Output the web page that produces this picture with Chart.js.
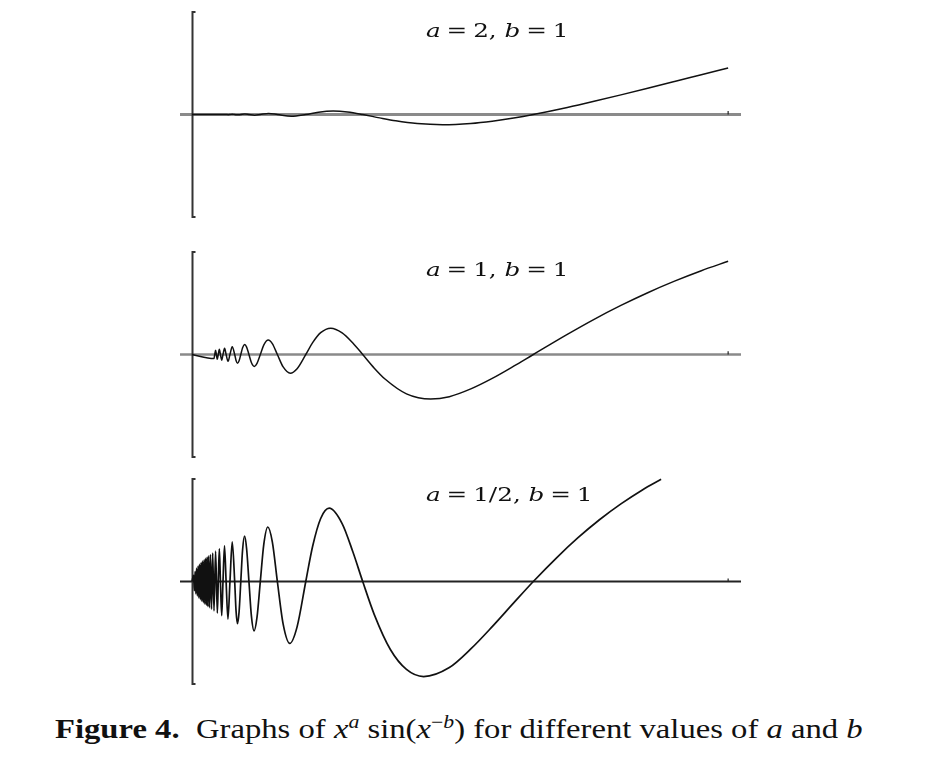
<!DOCTYPE html>
<html>
<head>
<meta charset="utf-8">
<script src="https://cdn.jsdelivr.net/npm/chart.js@4"></script>
<style>
  body { margin: 0; background: #fff; width: 951px; height: 780px; position: relative; overflow: hidden; }
  canvas { position: absolute; left: 0; }
  .lbl { position: absolute; font-family: "DejaVu Serif", serif; font-size: 19px; line-height: 19px; color: #111; white-space: nowrap; transform-origin: left top; transform: scaleX(1.3); }
  .lbl i { font-style: italic; }
  .eq { margin: 0 4.5px; }
  #caption { position: absolute; left: 55px; top: 716px; font-family: "Liberation Serif", serif; font-size: 27px; line-height: 27px; color: #111; white-space: nowrap; transform-origin: left top; transform: scaleX(1.21); }
  #caption sup { font-size: 18px; line-height: 0; }
</style>
</head>
<body>
<canvas id="c1" width="951" height="230" style="top:0px"></canvas>
<canvas id="c2" width="951" height="230" style="top:240px"></canvas>
<canvas id="c3" width="951" height="230" style="top:467px"></canvas>

<div class="lbl" style="left:426px; top:21px"><i>a</i><span class="eq">=</span>2, <i>b</i><span class="eq">=</span>1</div>
<div class="lbl" style="left:426px; top:260px"><i>a</i><span class="eq">=</span>1, <i>b</i><span class="eq">=</span>1</div>
<div class="lbl" style="left:426px; top:485px"><i>a</i><span class="eq">=</span>1/2, <i>b</i><span class="eq">=</span>1</div>

<div id="caption"><b>Figure 4.</b>&ensp;Graphs of <i>x</i><sup><i>a</i></sup> sin(<i>x</i><sup>&minus;<i>b</i></sup>) for different values of <i>a</i> and <i>b</i></div>

<script>
// x^2 sin(1/x)
const x1 = [0, 0.0318, 0.0337, 0.0354, 0.0376, 0.0398, 0.0427, 0.0455, 0.0493, 0.0531, 0.0584, 0.0637, 0.0714, 0.0796, 0.0926, 0.1061, 0.118, 0.1317, 0.145, 0.1592, 0.175, 0.19, 0.21, 0.2337, 0.26, 0.28, 0.3, 0.3183, 0.35, 0.375, 0.4, 0.425, 0.45, 0.475, 0.5];
const y1 = [0, 0, -0.0011, 0, 0.0014, 0, -0.0018, 0, 0.0024, 0, -0.0034, 0, 0.005, 0, -0.0084, 0, 0.0113, 0.0168, 0.0121, 0, -0.0165, -0.0308, -0.044, -0.0495, -0.0436, -0.0326, -0.0172, 0, 0.0343, 0.0643, 0.0958, 0.1281, 0.161, 0.1942, 0.2273];

// x sin(1/x)
const x2 = [0, 0.0205, 0.0212, 0.022, 0.0227, 0.0236, 0.0245, 0.0255, 0.0265, 0.0277, 0.0289, 0.0304, 0.0318, 0.0336, 0.0354, 0.0375, 0.0398, 0.04107, 0.0425, 0.0439, 0.0455, 0.04716, 0.0491, 0.05093, 0.0531, 0.05536, 0.0581, 0.06063, 0.0637, 0.067, 0.0711, 0.0749, 0.0796, 0.085, 0.0917, 0.098, 0.1061, 0.1125, 0.12, 0.1294, 0.14, 0.15, 0.1592, 0.17, 0.18, 0.2, 0.2226, 0.24, 0.26, 0.28, 0.3, 0.3183, 0.35, 0.375, 0.4, 0.425, 0.45, 0.475, 0.5];
const y2 = [0, -0.02, 0, 0.021, 0, -0.0235, 0, 0.0254, 0, -0.0277, 0, 0.0303, 0, -0.0335, 0, 0.0375, 0, -0.029, -0.0425, -0.031, 0, 0.0333, 0.049, 0.036, 0, -0.0391, -0.058, -0.0429, 0, 0.0474, 0.0709, 0.053, 0, -0.0606, -0.0913, -0.0692, 0, 0.0577, 0.1065, 0.1284, 0.1058, 0.0561, 0, -0.0666, -0.1197, -0.1918, -0.2172, -0.2056, -0.1678, -0.1166, -0.0572, 0, 0.0981, 0.1716, 0.2394, 0.3015, 0.3578, 0.4088, 0.4546];

// x^(1/2) sin(1/x)
const x3 = [0, 0.0015, 0.0022, 0.0029, 0.0036, 0.0043, 0.005, 0.0057, 0.0064, 0.0071, 0.0078, 0.0085, 0.0092, 0.0099, 0.0106, 0.0113, 0.012, 0.0127, 0.0134, 0.0141, 0.0148, 0.0155, 0.0163, 0.0172, 0.0182, 0.0193, 0.0205, 0.022, 0.0236, 0.0245, 0.0255, 0.0265, 0.0277, 0.0289, 0.0303, 0.0318, 0.0335, 0.0354, 0.0375, 0.0398, 0.04107, 0.0424, 0.0439, 0.0455, 0.04716, 0.049, 0.05093, 0.0531, 0.05536, 0.0579, 0.06063, 0.0637, 0.067, 0.0707, 0.0749, 0.0796, 0.085, 0.0912, 0.098, 0.1061, 0.1125, 0.12, 0.128, 0.14, 0.15, 0.1592, 0.17, 0.185, 0.2, 0.216, 0.24, 0.26, 0.28, 0.3, 0.3183, 0.34, 0.36, 0.38, 0.4, 0.42, 0.4375];
const y3 = [0, 0.03, -0.045, 0.05, -0.06, 0.065, -0.07, 0.075, -0.08, 0.084, -0.088, 0.092, -0.096, 0.099, -0.103, 0.106, -0.11, 0.113, -0.116, 0.119, -0.122, 0.1246, -0.1278, 0.1312, -0.1349, 0.1389, -0.1433, 0.1482, -0.1536, 0, 0.1596, 0, -0.1664, 0, 0.1741, 0, -0.1831, 0, 0.1935, 0, -0.1433, -0.206, -0.1481, 0, 0.1536, 0.2213, 0.1596, 0, -0.1664, -0.2406, -0.1741, 0, 0.183, 0.2659, 0.1935, 0, -0.2079, -0.302, -0.2212, 0, 0.1719, 0.3075, 0.3576, 0.2828, 0.1449, 0, -0.1614, -0.3317, -0.4288, -0.4636, -0.4197, -0.329, -0.2201, -0.1044, 0, 0.1157, 0.2136, 0.3012, 0.3785, 0.4468, 0.4985];

const xMin = -0.0112, xMax = 0.512;
const yMin = -0.5, yMax = 0.5;

// axes: vertical at x=0 with end ticks, horizontal at y=0, small mark at x=0.5
const axesPlugin = {
  id: 'axes',
  beforeDatasetsDraw(chart, args, opts) {
    const c = chart.ctx;
    const xs = chart.scales.x, ys = chart.scales.y;
    const x0 = Math.round(xs.getPixelForValue(0)) + 0.5;
    const top = ys.getPixelForValue(yMax), bot = ys.getPixelForValue(yMin);
    const y0 = ys.getPixelForValue(0);
    c.save();
    c.strokeStyle = opts.hColor;
    c.lineWidth = opts.hWidth;
    c.beginPath();
    c.moveTo(chart.chartArea.left, y0);
    c.lineTo(chart.chartArea.right, y0);
    c.stroke();
    c.strokeStyle = '#333';
    c.lineWidth = 2;
    c.beginPath();
    c.moveTo(x0 + 3, top);
    c.lineTo(x0, top);
    c.lineTo(x0, bot);
    c.lineTo(x0 + 3, bot);
    c.stroke();
    const xe = xs.getPixelForValue(0.5);
    c.strokeStyle = '#222';
    c.lineWidth = 1.2;
    c.beginPath();
    c.moveTo(xe, y0 - opts.hWidth / 2 - 2);
    c.lineTo(xe, y0);
    c.stroke();
    c.restore();
  }
};

function makeChart(id, xs, ys, hColor, hWidth, lw) {
  return new Chart(document.getElementById(id), {
    type: 'line',
    data: {
      datasets: [{
        data: xs.map((x, i) => ({ x: x, y: ys[i] })),
        borderColor: '#111',
        borderWidth: lw,
        pointRadius: 0,
        fill: false,
        cubicInterpolationMode: 'monotone',
        clip: 4
      }]
    },
    options: {
      responsive: false,
      animation: false,
      events: [],
      layout: { padding: { left: 180, right: 210, top: 12, bottom: 13 } },
      scales: {
        x: { type: 'linear', display: false, min: xMin, max: xMax },
        y: { type: 'linear', display: false, min: yMin, max: yMax }
      },
      plugins: {
        legend: { display: false },
        tooltip: { enabled: false },
        axes: { hColor: hColor, hWidth: hWidth }
      }
    },
    plugins: [axesPlugin]
  });
}

makeChart('c1', x1, y1, '#8a8a8a', 3, 1.5);
makeChart('c2', x2, y2, '#8a8a8a', 2.5, 1.5);
makeChart('c3', x3, y3, '#222', 2, 1.7);
</script>
</body>
</html>
